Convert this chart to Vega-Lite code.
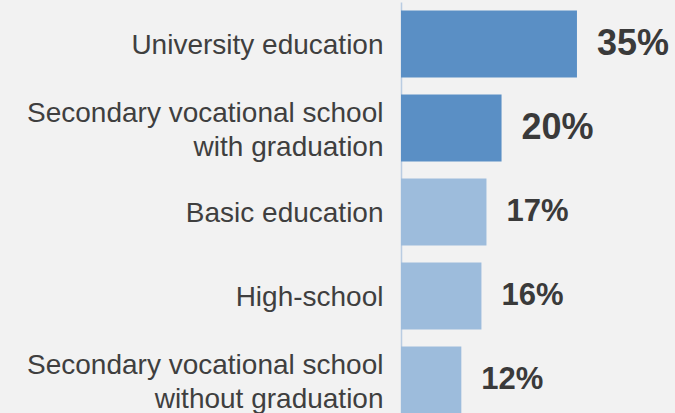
{
  "$schema": "https://vega.github.io/schema/vega-lite/v6.json",
  "width": 274,
  "height": 420,
  "autosize": {"type": "none"},
  "padding": {"left": 401, "top": 2, "right": 0, "bottom": 0},
  "background": "#F2F2F2",
  "config": {"view": {"stroke": null}, "font": "Liberation Sans"},
  "data": {
    "values": [
      {"level": "University education", "share": 35, "label": "35%", "group": "top"},
      {"level": "Secondary vocational school|with graduation", "share": 20, "label": "20%", "group": "top"},
      {"level": "Basic education", "share": 17, "label": "17%", "group": "other"},
      {"level": "High-school", "share": 16, "label": "16%", "group": "other"},
      {"level": "Secondary vocational school|without graduation", "share": 12, "label": "12%", "group": "other"}
    ]
  },
  "encoding": {
    "y": {
      "field": "level",
      "type": "nominal",
      "sort": null,
      "scale": {"paddingInner": 0.2, "paddingOuter": 0.1},
      "axis": {
        "title": null,
        "ticks": false,
        "domainColor": "#B9CCE2",
        "domainWidth": 1.5,
        "labelFontSize": 28,
        "labelColor": "#3F3F3F",
        "labelPadding": 18,
        "labelLimit": 400,
        "labelLineHeight": 34,
        "labelOffset": {"expr": "indexof(datum.value, '|') >= 0 ? -14 : 2"},
        "labelExpr": "split(datum.label, '|')"
      }
    },
    "x": {
      "field": "share",
      "type": "quantitative",
      "scale": {"domain": [0, 54.5], "nice": false},
      "axis": null
    }
  },
  "layer": [
    {
      "mark": {"type": "bar"},
      "encoding": {
        "color": {
          "field": "group",
          "type": "nominal",
          "scale": {"domain": ["top", "other"], "range": ["#5A8FC5", "#9DBCDC"]},
          "legend": null
        }
      }
    },
    {
      "mark": {"type": "text", "align": "left", "baseline": "middle", "dx": 20, "fontWeight": "bold", "color": "#3A3A3A"},
      "encoding": {
        "text": {"field": "label"},
        "size": {
          "field": "group",
          "type": "nominal",
          "scale": {"domain": ["top", "other"], "range": [36, 31]},
          "legend": null
        }
      }
    }
  ]
}
